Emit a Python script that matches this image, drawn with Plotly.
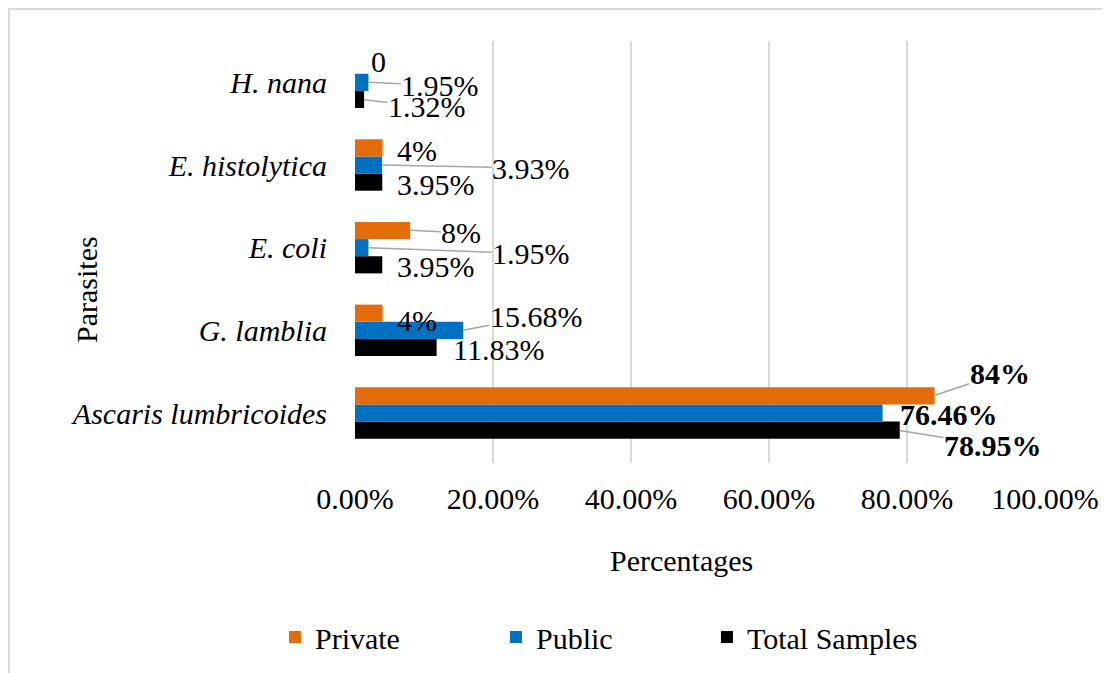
import plotly.graph_objects as go

# ---------------- data ----------------
categories = ["Ascaris lumbricoides", "G. lamblia", "E. coli", "E. histolytica", "H. nana"]
private = [84, 4, 8, 4, 0]
public = [76.46, 15.68, 1.95, 3.93, 1.95]
total = [78.95, 11.83, 3.95, 3.95, 1.32]
private_labels = ["84%", "4%", "8%", "4%", "0"]
public_labels = ["76.46%", "15.68%", "1.95%", "3.93%", "1.95%"]
total_labels = ["78.95%", "11.83%", "3.95%", "3.95%", "1.32%"]
tick_vals = [0, 20, 40, 60, 80, 100]
tick_text = ["0.00%", "20.00%", "40.00%", "60.00%", "80.00%", "100.00%"]

# ---------------- style ----------------
FONT = "Liberation Serif"
C_PRIV = "#E46C0A"
C_PUB = "#0070C0"
C_TOT = "#000000"
GRID = "#D9D9D9"
LEADER = "#A6A6A6"
BAR_STEP = 17.5  # px between bar centres within a group

# label offsets (dx, dy in px from bar end; dy positive = down), leader flag
priv_off = [(65, -22, True), (34, 8, False), (51, 2.5, True), (34, 3, False), (23, -3, False)]
pub_off = [(66, 1, False), (73, -14, True), (163, 6, True), (149, 3, True), (72, 3, True)]
tot_off = [(93, 15, True), (62, 2, False), (54, 1.5, False), (54, 2, False), (63, 7, True)]

fig = go.Figure()
series = [
    ("Total Samples", total, C_TOT, 3),
    ("Public", public, C_PUB, 2),
    ("Private", private, C_PRIV, 1),
]
widths = {"Private": 176, "Public": 166, "Total Samples": 200}
for name, vals, col, rank in series:
    fig.add_trace(go.Bar(
        y=categories, x=vals, name=name, orientation="h",
        marker=dict(color=col, line=dict(width=0)),
        legendrank=rank, legendwidth=widths[name], hoverinfo="skip",
    ))

annotations = []
groups = [
    (private, private_labels, priv_off, BAR_STEP),
    (public, public_labels, pub_off, 0.0),
    (total, total_labels, tot_off, -BAR_STEP),
]
for vals, labels, offs, yoff in groups:
    for i, cat in enumerate(categories):
        dx, dy, leader = offs[i]
        bold = (i == 0)
        fnt = dict(family=FONT, size=30, color="black")
        txt = "<b>" + labels[i] + "</b>" if bold else labels[i]
        if leader:
            annotations.append(dict(
                x=vals[i], y=cat, xref="x", yref="y", text=txt, font=fnt,
                showarrow=True, arrowhead=0, arrowwidth=1.5, arrowcolor=LEADER,
                ax=dx, ay=dy, axref="pixel", ayref="pixel", yshift=yoff,
                xanchor="center", yanchor="middle", borderpad=0,
            ))
        else:
            annotations.append(dict(
                x=vals[i], y=cat, xref="x", yref="y", text=txt, font=fnt,
                showarrow=False, xshift=dx, yshift=yoff - dy,
                xanchor="center", yanchor="middle",
            ))

annotations.append(dict(
    x=0.4725, y=-0.23, xref="paper", yref="paper", text="Percentages",
    showarrow=False, font=dict(family=FONT, size=30, color="black"),
    xanchor="center", yanchor="middle",
))
annotations.append(dict(
    x=-0.3884, y=0.41, xref="paper", yref="paper", text="Parasites",
    showarrow=False, textangle=-90, font=dict(family=FONT, size=30, color="black"),
    xanchor="center", yanchor="middle",
))

fig.update_layout(
    width=1110, height=673,
    margin=dict(l=347, r=73, t=33, b=218),
    paper_bgcolor="white", plot_bgcolor="white",
    barmode="group", bargap=0.378, bargroupgap=0,
    font=dict(family=FONT, size=30, color="black"),
    xaxis=dict(
        range=[0, 100], tickvals=tick_vals, ticktext=tick_text,
        showgrid=True, gridcolor=GRID, gridwidth=1.5,
        zeroline=False, showline=False, ticks="",
        tickfont=dict(family=FONT, size=30, color="black"),
        ticklabelstandoff=15, fixedrange=True,
    ),
    yaxis=dict(
        categoryorder="array", categoryarray=categories,
        showgrid=False, zeroline=False, showline=False, ticks="",
        tickfont=dict(family=FONT, size=30, color="black", style="italic"),
        ticklabelstandoff=27, fixedrange=True,
    ),
    legend=dict(
        orientation="h", x=-0.116, y=-0.4123, xanchor="left", yanchor="middle",
        font=dict(family=FONT, size=30, color="black"),
        traceorder="normal", bgcolor="rgba(0,0,0,0)",
    ),
    annotations=annotations,
    shapes=[dict(
        type="rect", xref="paper", yref="paper",
        x0=(1 - 347) / 690, x1=1.15, y0=-0.6, y1=(422 + 33 - 1) / 422,
        line=dict(color=GRID, width=2), fillcolor="rgba(0,0,0,0)", layer="below",
    )],
)

fig.write_html("out.html")
